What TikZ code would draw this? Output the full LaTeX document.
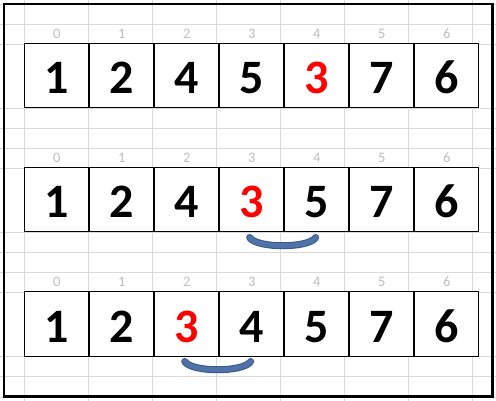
\documentclass[tikz,border=0pt]{standalone}
\usepackage{fontspec}
\setmainfont{Carlito}
\usepackage{xcolor}
\usepackage{tikz}
\usetikzlibrary{positioning,calc}
\definecolor{gridgray}{RGB}{218,218,218}
\definecolor{idxgray}{RGB}{190,190,190}
\definecolor{arcblue}{RGB}{79,114,168}
\definecolor{arcedge}{RGB}{56,88,135}
\definecolor{hilite}{RGB}{255,0,0}

\begin{document}
\begin{tikzpicture}[
    x=1pt, y=-1pt,
    node distance=0pt,
    label distance=4.5pt,
    cell/.style={draw=black, fill=white, line width=1pt, minimum width=64pt, minimum height=64pt, inner sep=0pt, text height=36pt, text depth=0pt, font=\fontsize{48}{48}\selectfont\bfseries},
    moved/.style={cell, text=hilite},
    index/.style={text=idxgray, inner sep=0pt, text depth=0pt, font=\fontsize{14.5}{14.5}\selectfont},
    gridline/.style={draw=gridgray, line width=0.8pt},
    frame/.style={draw=black, line width=2.5pt},
    bracket/.style={draw=arcedge, line width=7pt, line cap=round, postaction={draw=arcblue, line width=5pt}},
]
    \useasboundingbox (0,0) rectangle (496,401);

    % Sheet grid
    \foreach \gx in {24.7,88.7,...,473} \draw[gridline] (\gx,0) -- (\gx,401);
    \foreach \gy in {4,24,44,108,128,148,168,232,252,272,292,356,376,397} \draw[gridline] (0,\gy) -- (496,\gy);
    \draw[frame] (4,4) rectangle (492.5,396.5);

    % Row 1
    \node[cell, label={[index]above:0}] (a0) at (56.7,76) {1};
    \node[cell, label={[index]above:1}, right=of a0] (a1) {2};
    \node[cell, label={[index]above:2}, right=of a1] (a2) {4};
    \node[cell, label={[index]above:3}, right=of a2] (a3) {5};
    \node[moved, label={[index]above:4}, right=of a3] (a4) {3};
    \node[cell, label={[index]above:5}, right=of a4] (a5) {7};
    \node[cell, label={[index]above:6}, right=of a5] (a6) {6};

    % Row 2
    \node[cell, label={[index]above:0}] (b0) at (56.7,200) {1};
    \node[cell, label={[index]above:1}, right=of b0] (b1) {2};
    \node[cell, label={[index]above:2}, right=of b1] (b2) {4};
    \node[moved, label={[index]above:3}, right=of b2] (b3) {3};
    \node[cell, label={[index]above:4}, right=of b3] (b4) {5};
    \node[cell, label={[index]above:5}, right=of b4] (b5) {7};
    \node[cell, label={[index]above:6}, right=of b5] (b6) {6};

    % Row 3
    \node[cell, label={[index]above:0}] (c0) at (56.7,324) {1};
    \node[cell, label={[index]above:1}, right=of c0] (c1) {2};
    \node[moved, label={[index]above:2}, right=of c1] (c2) {3};
    \node[cell, label={[index]above:3}, right=of c2] (c3) {4};
    \node[cell, label={[index]above:4}, right=of c3] (c4) {5};
    \node[cell, label={[index]above:5}, right=of c4] (c5) {7};
    \node[cell, label={[index]above:6}, right=of c5] (c6) {6};

    % Swap brackets
    \draw[bracket] ($(b3.south)+(-2,5)$) .. controls +(7,11) and +(-7,11) .. ($(b4.south)+(-1,5)$);
    \draw[bracket] ($(c2.south)+(-2,5)$) .. controls +(7,11) and +(-7,11) .. ($(c3.south)+(-1,5)$);
\end{tikzpicture}
\end{document}
